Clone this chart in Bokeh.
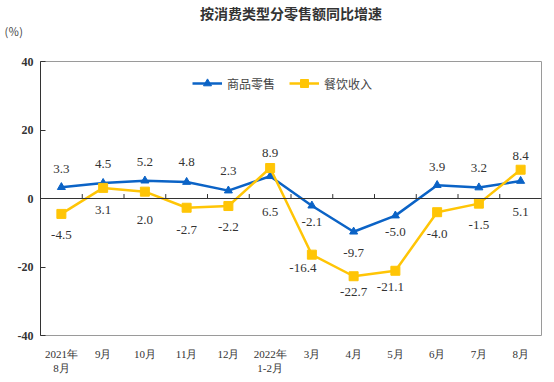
from bokeh.plotting import figure
from bokeh.models import Range1d, FixedTicker, Span, Title, Legend, LegendItem, ColumnDataSource
from bokeh.core.properties import value
from bokeh.embed import file_html
from bokeh.resources import INLINE

months = ["2021年\n8月", "9月", "10月", "11月", "12月", "2022年\n1-2月", "3月", "4月", "5月", "6月", "7月", "8月"]
goods = [3.3, 4.5, 5.2, 4.8, 2.3, 6.5, -2.1, -9.7, -5.0, 3.9, 3.2, 5.1]
catering = [-4.5, 3.1, 2.0, -2.7, -2.2, 8.9, -16.4, -22.7, -21.1, -4.0, -1.5, 8.4]
y_ticks = [-40, -20, 0, 20, 40]

# label placement (style): pixel offsets of value labels from their points
goods_dy = [-18, -19, -19, -20, -20, 36, 16, 21, 16, -18, -20, 31]
catering_dy = [21, 22, 28, 22, 21, -15, 13, 16, 16, 22, 21, -14]
catering_dx = [0, 0, 0, 0, 0, 0, -9, 0, -5, 0, 0, 0]

BLUE = "#0b63c6"
YELLOW = "#ffc506"
SERIF = "Liberation Serif"
CJK = "Noto Sans CJK SC"

n = len(months)
xs = [i + 0.5 for i in range(n)]

p = figure(frame_width=501, frame_height=274, output_backend="svg", toolbar_location=None,
           x_range=Range1d(0, n), y_range=Range1d(-40, 40),
           min_border_left=40, min_border_right=13, min_border_top=0, min_border_bottom=46)
p.background_fill_color = "white"
p.border_fill_color = "white"
p.outline_line_color = "#9a9a9a"
p.outline_line_width = 1
p.xgrid.visible = False
p.ygrid.visible = False

# main title (outermost); added titles stack outward from the frame:
# first an empty spacer next to the frame, then the unit label
p.title.text = "按消费类型分零售额同比增速"
p.title.align = "center"
p.title.text_font = CJK
p.title.text_font_size = "14px"
p.title.text_font_style = "bold"
p.title.text_color = "#333333"
p.title.standoff = 0
p.add_layout(Title(text=" ", align="left", text_font=CJK, text_font_size="11px",
                   standoff=3), "above")
p.add_layout(Title(text="(％)", align="left", offset=-36, vertical_align="top",
                   text_font=CJK, text_font_size="11px", text_font_style="normal",
                   text_color="#444444", standoff=0), "above")

# x axis
xa = p.xaxis[0]
xa.ticker = FixedTicker(ticks=xs)
xa.major_label_overrides = {x: m for x, m in zip(xs, months)}
xa.major_tick_line_color = None
xa.minor_tick_line_color = None
xa.axis_line_color = None
xa.major_label_text_font = SERIF
xa.major_label_text_font_size = "11px"
xa.major_label_text_color = "#333333"
xa.major_label_standoff = 6

# y axis
ya = p.yaxis[0]
ya.ticker = FixedTicker(ticks=y_ticks)
ya.axis_line_color = "#333333"
ya.major_tick_in = 5
ya.major_tick_out = 0
ya.minor_tick_line_color = None
ya.major_tick_line_color = "#333333"
ya.major_label_text_font = SERIF
ya.major_label_text_font_size = "12px"
ya.major_label_text_font_style = "bold"
ya.major_label_text_color = "#333333"
ya.major_label_standoff = 7
ya.major_label_overrides = {t: str(t) for t in y_ticks}

# zero line and boundary ticks
p.add_layout(Span(location=0, dimension="width", line_color="#333333", line_width=1))
bounds = list(range(1, n))
p.segment(x0=bounds, y0=[0] * len(bounds), x1=bounds, y1=[1.3] * len(bounds),
          line_color="#333333", line_width=1)

# series
gl = p.line(xs, goods, line_color=BLUE, line_width=2.5)
gm = p.scatter(xs, goods, marker="triangle", size=8, fill_color=BLUE, line_color=BLUE)
cl = p.line(xs, catering, line_color=YELLOW, line_width=2.5)
cm = p.scatter(xs, catering, marker="square", size=9, fill_color=YELLOW, line_color=YELLOW)

def labels(vals, dx, dy):
    src = ColumnDataSource(dict(x=xs, y=vals, t=["%.1f" % v for v in vals], dx=dx, dy=dy))
    p.text(x="x", y="y", text="t", x_offset="dx", y_offset="dy", source=src,
           text_font=value(SERIF), text_font_size="13px", text_color="#333333",
           text_align="center", text_baseline="middle")

labels(goods, [0] * n, goods_dy)
labels(catering, catering_dx, catering_dy)

legend = Legend(items=[LegendItem(label="商品零售", renderers=[gl, gm]),
                       LegendItem(label="餐饮收入", renderers=[cl, cm])],
                orientation="horizontal", location=(152, 242))
legend.border_line_color = None
legend.background_fill_alpha = 0
legend.padding = 0
legend.margin = 0
legend.glyph_width = 30
legend.label_text_font = CJK
legend.label_text_font_size = "12px"
legend.label_text_color = "#444444"
legend.spacing = 14
legend.label_standoff = 5
p.add_layout(legend, "center")

open("out.html", "w").write(file_html(p, INLINE))
